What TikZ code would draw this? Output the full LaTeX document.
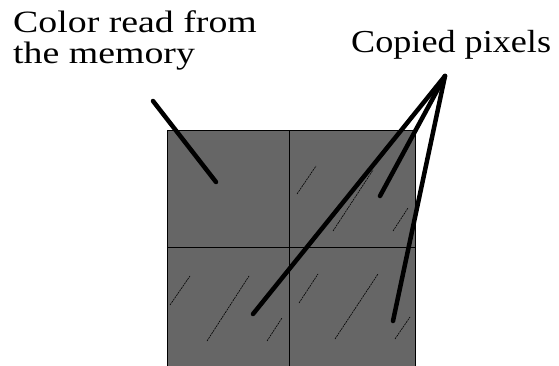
\documentclass[tikz,border=0pt]{standalone}
\usepackage{fontspec}
\setmainfont{Liberation Serif}
\definecolor{cellgray}{HTML}{666666}
\begin{document}
\begin{tikzpicture}[x=1pt,y=-1pt,
  lbl/.style={inner sep=0pt,anchor=base west},
  leader/.style={line width=4.5pt,black,line cap=round},
  hatch/.style={line width=0.6pt,black,dash pattern=on 2pt off 0.8pt},
  cell/.style={draw=black,line width=1pt,fill=cellgray}]
\useasboundingbox (0,0) rectangle (559,366);
% square of four cells
\node[cell,minimum width=122pt,minimum height=117pt,inner sep=0pt,anchor=north west] (c11) at (167,130) {};
\node[cell,minimum width=126pt,minimum height=117pt,inner sep=0pt,anchor=north west] (c12) at (289,130) {};
\node[cell,minimum width=122pt,minimum height=119pt,inner sep=0pt,anchor=north west] (c21) at (167,247) {};
\node[cell,minimum width=126pt,minimum height=119pt,inner sep=0pt,anchor=north west] (c22) at (289,247) {};
% hatches
\draw[hatch] (297,194) -- (316,166);
\draw[hatch] (333,231) -- (373,170);
\draw[hatch] (393,231) -- (408,208);
\draw[hatch] (170,305) -- (190,276);
\draw[hatch] (207,341) -- (249,276);
\draw[hatch] (267,341) -- (282,318);
\draw[hatch] (299,303) -- (318,274);
\draw[hatch] (335,339) -- (378,274);
\draw[hatch] (395,339) -- (410,317);
% labels
\node[lbl,align=left,font=\fontsize{31}{31}\selectfont] (l1) at (13,64) {\scalebox{1.22}[1]{Color read from}\\\scalebox{1.22}[1]{the memory}};
\node[lbl,font=\fontsize{32}{32}\selectfont] (l3) at (351,53) {\scalebox{1.13}[1]{Copied pixels}};
% leader coordinates
\coordinate (s1) at (153,101);
\coordinate (e1) at (216,182);
\coordinate (tip) at (445,76);
\coordinate (p1) at (253,314);
\coordinate (p2) at (380,196);
\coordinate (p3) at (393,321);
\draw[leader] (s1) -- (e1);
\draw[leader] (tip) -- (p1);
\draw[leader] (tip) -- (p2);
\draw[leader] (tip) -- (p3);
\end{tikzpicture}
\end{document}
